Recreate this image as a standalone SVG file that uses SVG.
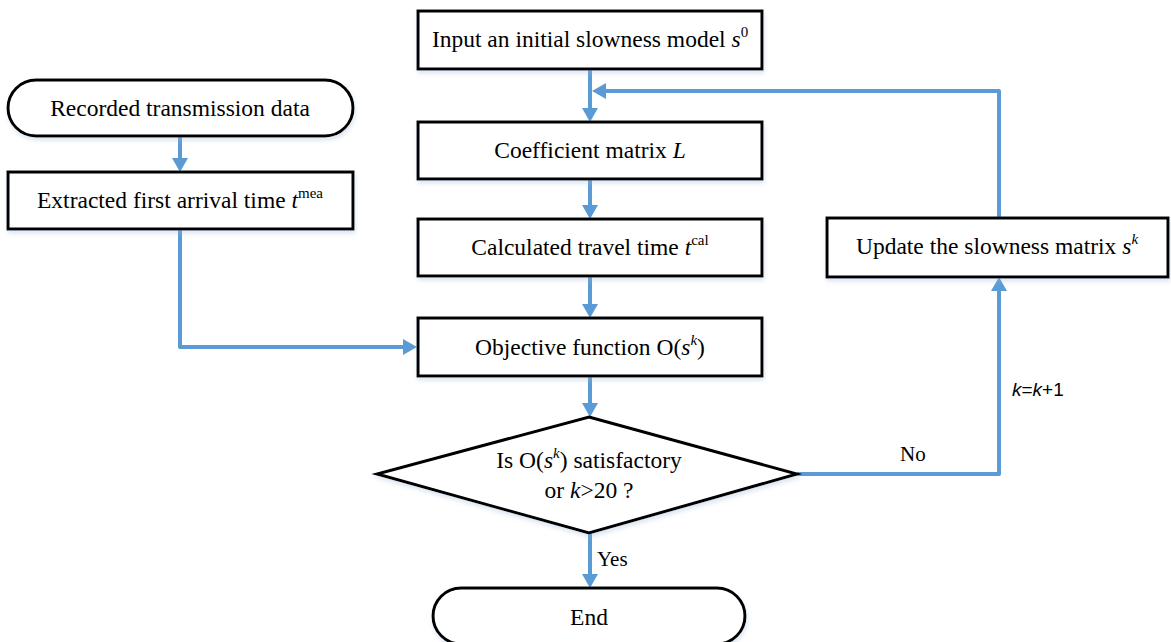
<svg xmlns="http://www.w3.org/2000/svg" width="1171" height="642" viewBox="0 0 1171 642">
<style>
.box{fill:#fff;stroke:#000;stroke-width:3;filter:url(#sh)}
.t{font-family:'Liberation Serif','DejaVu Serif',serif;font-size:23.5px;fill:#000;text-anchor:middle}
.sup{font-size:15px}
.i{font-style:italic}
.lbl{font-family:'Liberation Serif','DejaVu Serif',serif;font-size:21px;fill:#000}
.sans{font-family:'Liberation Sans','Open Sans',sans-serif;font-size:19px;fill:#000}
.c{fill:none;stroke:#5B9BD5;stroke-width:4;stroke-linejoin:round;marker-end:url(#ah)}
</style>
<defs>
<marker id="ah" markerUnits="userSpaceOnUse" viewBox="0 0 14 16" refX="1" refY="8" markerWidth="14" markerHeight="16" orient="auto">
<path d="M0,0 L14,8 L0,16 z" fill="#5B9BD5"/>
</marker>
<filter id="sh" x="-5%" y="-20%" width="110%" height="150%">
<feDropShadow dx="1" dy="3" stdDeviation="2" flood-color="#9db7d6" flood-opacity="0.35"/>
</filter>
</defs>
<rect width="1171" height="642" fill="#fff"/>
<g id="connectors">
<path class="c" d="M590,69 V109"/>
<path class="c" d="M999,218 V91 H605"/>
<path class="c" d="M590,179 V206"/>
<path class="c" d="M590,276 V305"/>
<path class="c" d="M590,376 V404"/>
<path class="c" d="M590,533 V575"/>
<path class="c" d="M797,474 H999 V290"/>
<path class="c" d="M180,136 V159"/>
<path class="c" d="M180,229 V347 H404"/>
</g>
<g id="input">
<rect class="box" x="418" y="11" width="344" height="58"/>
<text class="t" x="590" y="47">Input an initial slowness model <tspan class="i">s</tspan><tspan class="sup" dy="-10">0</tspan></text>
</g>
<g id="coefficient">
<rect class="box" x="418" y="122" width="344" height="57"/>
<text class="t" x="590" y="158">Coefficient matrix <tspan class="i">L</tspan></text>
</g>
<g id="calculated">
<rect class="box" x="418" y="219" width="344" height="57"/>
<text class="t" x="590" y="255">Calculated travel time <tspan class="i">t</tspan><tspan class="sup" dy="-10">cal</tspan></text>
</g>
<g id="objective">
<rect class="box" x="418" y="318" width="344" height="58"/>
<text class="t" x="590" y="355">Objective function O(<tspan class="i">s</tspan><tspan class="sup i" dy="-10">k</tspan><tspan dy="10">)</tspan></text>
</g>
<g id="decision">
<polygon class="box" points="589,417 797,474 589,533 377,474"/>
<text class="t" x="589" y="468">Is O(<tspan class="i">s</tspan><tspan class="sup i" dy="-10">k</tspan><tspan dy="10">) satisfactory</tspan></text>
<text class="t" x="589" y="498">or <tspan class="i">k</tspan>&gt;20 ?</text>
</g>
<g id="end">
<rect class="box" x="433" y="588" width="312" height="56" rx="28" ry="28"/>
<text class="t" x="589" y="625">End</text>
</g>
<g id="recorded">
<rect class="box" x="8" y="80" width="345" height="56" rx="28" ry="28"/>
<text class="t" x="180" y="116">Recorded transmission data</text>
</g>
<g id="extracted">
<rect class="box" x="8" y="172" width="345" height="57"/>
<text class="t" x="180" y="208">Extracted first arrival time <tspan class="i">t</tspan><tspan class="sup" dy="-10">mea</tspan></text>
</g>
<g id="update">
<rect class="box" x="827" y="218" width="341" height="59"/>
<text class="t" x="997" y="254">Update the slowness matrix <tspan class="i">s</tspan><tspan class="sup i" dy="-10">k</tspan></text>
</g>
<g id="labels">
<text class="lbl" x="597" y="566">Yes</text>
<text class="lbl" x="900" y="461">No</text>
<text class="sans" x="1012" y="396"><tspan class="i">k</tspan>=<tspan class="i">k</tspan>+1</text>
</g>
</svg>
